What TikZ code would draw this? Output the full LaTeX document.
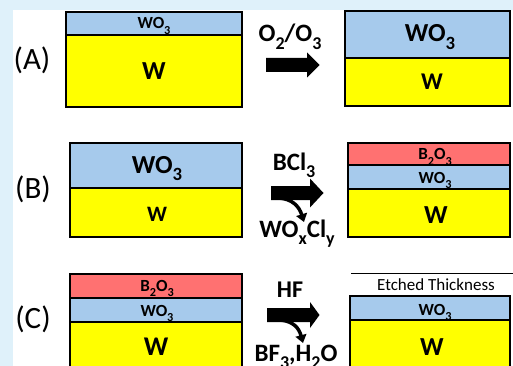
\documentclass[tikz,border=0pt]{standalone}
\usepackage{fontspec}
\setmainfont{Carlito}
\usetikzlibrary{arrows.meta}
\definecolor{bgblue}{HTML}{DFF1FA}
\definecolor{woblue}{HTML}{A6CAEC}
\definecolor{bored}{HTML}{FF7171}
\definecolor{wyel}{HTML}{FFFF00}
\newcommand\dn[1]{\raisebox{-0.3em}{\scalebox{0.72}{#1}}}
\tikzset{
  boxline/.style={draw=black, line width=2.5pt},
  sepline/.style={draw=black, line width=2pt},
  lbl/.style={anchor=base, inner sep=0pt, font=\bfseries\fontsize{#1}{#1}\selectfont},
  plbl/.style={anchor=base, inner sep=0pt, font=\fontsize{#1}{#1}\selectfont},
  bigarrow/.style={fill=black},
  sidearrow/.style={draw=black, line width=3.5pt, -{Triangle[width=11pt,length=8pt]}}
}
\begin{document}
\begin{tikzpicture}[x=1pt,y=-1pt]
\useasboundingbox (0,0) rectangle (513,366);
\clip (0,0) rectangle (513,366);
\fill[bgblue] (0,0) rectangle (513,366);
\fill[white] (13,10) rectangle (513,366);

% ---------- (A) ----------
\node[plbl=31] (la) at (32,70) {(A)};
\fill[woblue] (66,12) rectangle (242,35);
\fill[wyel] (66,35) rectangle (242,107);
\draw[sepline] (66,35) -- (242,35);
\draw[boxline] (66,12) rectangle (242,107);
\node[lbl=17] (a1o) at (154,29) {WO\dn{3}};
\node[lbl=26] (a1w) at (154,79.5) {W};

\fill[bigarrow] (266,58) -- (307,58) -- (307,52.5) -- (319.5,65) -- (307,77.5) -- (307,72) -- (266,72) -- cycle;
\node[lbl=25] (ra) at (290,42) {O\dn{2}/O\dn{3}};

\fill[woblue] (345,11) rectangle (510,58);
\fill[wyel] (345,58) rectangle (510,106);
\draw[sepline] (345,58) -- (510,58);
\draw[boxline] (345,11) rectangle (510,106);
\node[lbl=26] (a2o) at (430,42) {WO\dn{3}};
\node[lbl=24] (a2w) at (432,90) {W};

% ---------- (B) ----------
\node[plbl=31] (lb) at (33,198) {(B)};
\fill[woblue] (70,143) rectangle (242,188);
\fill[wyel] (70,188) rectangle (242,237);
\draw[sepline] (70,188) -- (242,188);
\draw[boxline] (70,143) rectangle (242,237);
\node[lbl=26] (b1o) at (157,173) {WO\dn{3}};
\node[lbl=22] (b1w) at (157,221) {W};

\fill[bigarrow] (271,186) -- (310,186) -- (310,178.5) -- (323.5,193) -- (310,207.5) -- (310,200) -- (271,200) -- cycle;
\coordinate (bs) at (279,198);
\coordinate (be) at (304,222);
\draw[sidearrow] (bs) .. controls (292,199) and (299,206) .. (be);
\node[lbl=25] (rb) at (294,170) {BCl\dn{3}};
\node[lbl=25] (pb) at (297,237) {WO\dn{x}Cl\dn{y}};

\fill[bored] (348,143) rectangle (510,165);
\fill[woblue] (348,165) rectangle (510,189);
\fill[wyel] (348,189) rectangle (510,237);
\draw[sepline] (348,165) -- (510,165);
\draw[sepline] (348,189) -- (510,189);
\draw[boxline] (348,143) rectangle (510,237);
\node[lbl=17] (b2b) at (435,160) {B\dn{2}O\dn{3}};
\node[lbl=17] (b2o) at (435,183) {WO\dn{3}};
\node[lbl=26] (b2w) at (436,223) {W};

% ---------- (C) ----------
\node[plbl=31] (lc) at (33,328) {(C)};
\fill[bored] (70,274) rectangle (242,298);
\fill[woblue] (70,298) rectangle (242,322);
\fill[wyel] (70,322) rectangle (242,380);
\draw[sepline] (70,298) -- (242,298);
\draw[sepline] (70,322) -- (242,322);
\draw[boxline] (70,274) rectangle (242,380);
\node[lbl=17] (c1b) at (157,291.5) {B\dn{2}O\dn{3}};
\node[lbl=17] (c1o) at (157,316) {WO\dn{3}};
\node[lbl=27] (c1w) at (156,355) {W};

\fill[bigarrow] (267,308) -- (310,308) -- (310,302) -- (319.5,315) -- (310,328) -- (310,322) -- (267,322) -- cycle;
\coordinate (cs) at (280,320);
\coordinate (ce) at (303,343);
\draw[sidearrow] (cs) .. controls (293,321) and (299,328) .. (ce);
\node[lbl=24] (rc) at (290,297) {HF};
\node[lbl=25] (pc) at (296,361) {BF\dn{3},H\dn{2}O};

\draw[line width=1pt] (351,273) -- (513,273);
\node[plbl=17] (et) at (436,290) {Etched Thickness};
\fill[woblue] (350,296) rectangle (510,320);
\fill[wyel] (350,320) rectangle (510,380);
\draw[sepline] (350,320) -- (510,320);
\draw[boxline] (350,296) rectangle (510,380);
\node[lbl=17] (c2o) at (435,315) {WO\dn{3}};
\node[lbl=26] (c2w) at (432,355) {W};
\end{tikzpicture}
\end{document}
